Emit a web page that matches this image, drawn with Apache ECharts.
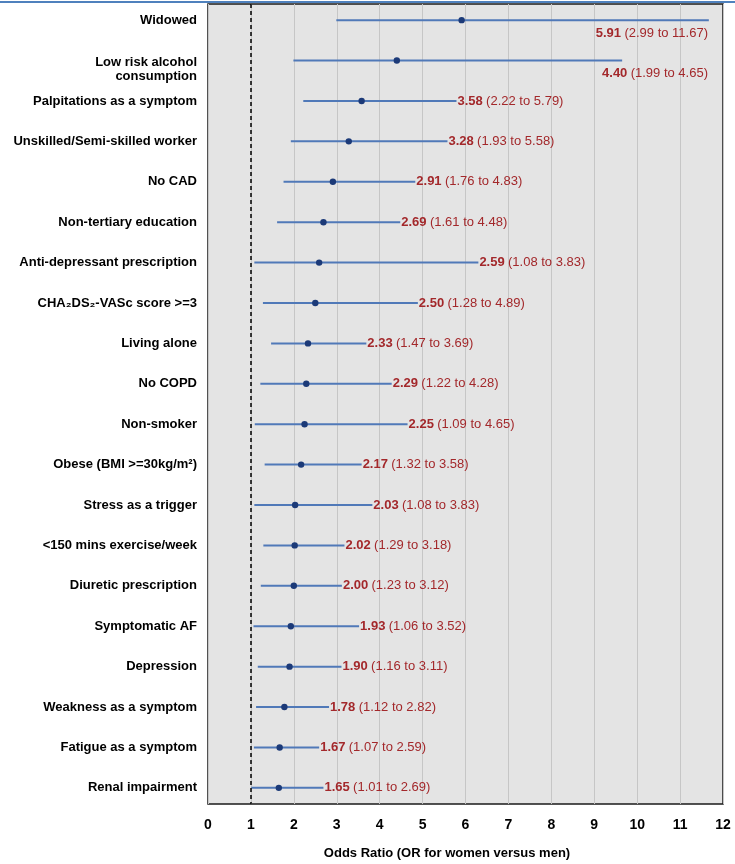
<!DOCTYPE html>
<html><head><meta charset="utf-8">
<script src="https://cdn.jsdelivr.net/npm/echarts@6/dist/echarts.min.js"></script>
<style>html,body{margin:0;padding:0;background:#fff}#c{width:735px;height:864px}</style>
</head><body><div id="c"></div>
<script>
const categories = ['Widowed','Low risk alcohol\nconsumption','Palpitations as a symptom','Unskilled/Semi-skilled worker','No CAD','Non-tertiary education','Anti-depressant prescription','CHA\u2082DS\u2082-VASc score >=3','Living alone','No COPD','Non-smoker','Obese (BMI >=30kg/m\u00b2)','Stress as a trigger','<150 mins exercise/week','Diuretic prescription','Symptomatic AF','Depression','Weakness as a symptom','Fatigue as a symptom','Renal impairment'];
const oddsRatio = [5.91,4.40,3.58,3.28,2.91,2.69,2.59,2.50,2.33,2.29,2.25,2.17,2.03,2.02,2.00,1.93,1.90,1.78,1.67,1.65];
const ciLow = [2.99,1.99,2.22,1.93,1.76,1.61,1.08,1.28,1.47,1.22,1.09,1.32,1.08,1.29,1.23,1.06,1.16,1.12,1.07,1.01];
const ciHigh = [11.67,9.65,5.79,5.58,4.83,4.48,6.30,4.89,3.69,4.28,4.65,3.58,3.83,3.18,3.12,3.52,3.11,2.82,2.59,2.69];
const ciText = ['2.99 to 11.67','1.99 to 4.65','2.22 to 5.79','1.93 to 5.58','1.76 to 4.83','1.61 to 4.48','1.08 to 3.83','1.28 to 4.89','1.47 to 3.69','1.22 to 4.28','1.09 to 4.65','1.32 to 3.58','1.08 to 3.83','1.29 to 3.18','1.23 to 3.12','1.06 to 3.52','1.16 to 3.11','1.12 to 2.82','1.07 to 2.59','1.01 to 2.69'];
const xMin = 0, xMax = 12, xStep = 1;
const refLine = 1;
const axisTitle = 'Odds Ratio (OR for women versus men)';

const FF = '"Liberation Sans", Arial, sans-serif';
const RED = '#a3282b';

const data = categories.map((c, i) => [i, ciLow[i], oddsRatio[i], ciHigh[i]]);

function renderItem(params, api) {
  const i = params.dataIndex;
  const row = api.value(0), lo = api.value(1), or = api.value(2), hi = api.value(3);
  const pL = api.coord([lo, row]);
  const pH = api.coord([hi, row]);
  const pM = api.coord([or, row]);
  const p0 = api.coord([xMin, row]);
  const pMax = api.coord([xMax, row]);
  const below = hi > 9;
  const multi = categories[i].indexOf('\n') >= 0;
  return {
    type: 'group',
    children: [
      { type: 'line', shape: { x1: pL[0], y1: pL[1], x2: pH[0], y2: pH[1] },
        style: { stroke: '#5079b8', lineWidth: 2 } },
      { type: 'circle', shape: { cx: pM[0], cy: pM[1], r: 3.2 },
        style: { fill: '#1c3a78' } },
      { type: 'text', style: {
          x: below ? pMax[0] - 15 : pH[0] + 1,
          y: below ? pH[1] + 13 : pH[1],
          text: '{b|' + oddsRatio[i].toFixed(2) + '} {n|(' + ciText[i] + ')}',
          align: below ? 'right' : 'left', verticalAlign: 'middle',
          rich: {
            b: { fontWeight: 'bold', fontSize: 13, fill: RED, fontFamily: FF },
            n: { fontSize: 13, fill: RED, fontFamily: FF }
          }
        } },
      { type: 'text', style: {
          x: p0[0] - 11, y: pM[1] + (multi ? 9 : 0),
          text: categories[i], align: 'right', verticalAlign: 'middle',
          fontWeight: 'bold', fontSize: 13, fill: '#000', fontFamily: FF, lineHeight: 14
        } }
    ]
  };
}

const chart = echarts.init(document.getElementById('c'), null, { renderer: 'canvas' });
chart.setOption({
  animation: false,
  backgroundColor: '#fff',
  grid: { left: 208, right: 12, top: 4, bottom: 60, show: true,
          backgroundColor: '#e4e4e4', borderColor: '#1a1a1a', borderWidth: 1.5 },
  xAxis: {
    type: 'value', min: xMin, max: xMax, interval: xStep,
    axisLine: { show: false }, axisTick: { show: false },
    axisLabel: { fontWeight: 'bold', fontSize: 14, color: '#000', fontFamily: FF, margin: 14 },
    splitLine: { show: true, lineStyle: { color: '#c6c6c6', width: 1 } }
  },
  yAxis: { type: 'value', inverse: true, min: -0.4, max: 19.4, show: false },
  graphic: [
    { type: 'line', shape: { x1: 0, y1: 2, x2: 735, y2: 2 }, style: { stroke: '#4f81bd', lineWidth: 2 }, z: 100 },
    { type: 'text', style: { x: 447, y: 853, text: axisTitle, align: 'center', verticalAlign: 'middle',
        fontWeight: 'bold', fontSize: 13, fill: '#000', fontFamily: FF } }
  ],
  series: [{
    type: 'custom',
    renderItem: renderItem,
    clip: false,
    encode: { x: [1, 2, 3], y: 0 },
    data: data,
    z: 3,
    markLine: {
      silent: true, symbol: 'none', label: { show: false },
      lineStyle: { color: '#000', type: [4, 3], width: 1.5 },
      data: [{ xAxis: refLine }]
    }
  }]
});
</script>
</body></html>
